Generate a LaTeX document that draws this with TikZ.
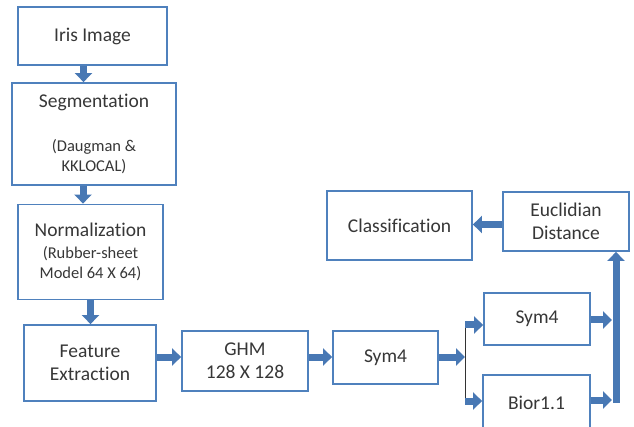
\documentclass[tikz,border=0pt]{standalone}
\usepackage{fontspec}
\setmainfont[Ligatures=NoCommon]{Carlito}
\usetikzlibrary{arrows.meta}
\definecolor{boxblue}{RGB}{79,129,189}
\definecolor{flowblue}{RGB}{72,120,180}
\definecolor{textgray}{RGB}{55,55,55}
\newcommand{\subtxt}{\fontsize{16.5}{20}\selectfont}

\begin{document}
\begin{tikzpicture}[
    x=1pt, y=-1pt,
    stage/.style={draw=boxblue, line width=1.8pt, fill=white, text=textgray,
        align=center, inner sep=0pt,
        font=\fontsize{19.5}{23}\selectfont},
    flow/.style={-{Triangle[width=17pt,length=9pt]}, flowblue, line width=7pt},
    branch/.style={black!80, line width=0.8pt},
]
\clip (0,0) rectangle (634,427);

% === COLUMNA IZQUIERDA ===
\node[stage, minimum width=149pt, minimum height=58pt] (iris) at (92.5,36) {Iris Image};
\node[stage, minimum width=164pt, minimum height=102pt] (seg) at (94,134)
    {Segmentation\\[21pt]{\subtxt (Daugman \&}\\[-3pt]{\subtxt KKLOCAL)}};
\node[stage, minimum width=145pt, minimum height=95pt] (norm) at (90.5,252)
    {Normalization\\[-1pt]{\subtxt (Rubber-sheet}\\[-3pt]{\subtxt Model 64 X 64)}};
\node[stage, minimum width=132pt, minimum height=76pt] (feat) at (90,363) {Feature\\Extraction};

% === FILA INFERIOR ===
\node[stage, minimum width=126pt, minimum height=60pt] (ghm) at (245,361) {GHM\\128 X 128};
\node[stage, minimum width=105pt, minimum height=53pt] (wavA) at (385.5,357.5) {Sym4};
\node[stage, minimum width=106pt, minimum height=52pt] (wavB) at (537,319) {Sym4};
\node[stage, minimum width=107pt, minimum height=56pt] (wavC) at (536.5,403) {Bior1.1};

% === FILA SUPERIOR ===
\node[stage, minimum width=126pt, minimum height=59pt] (eucl) at (566,221.5) {Euclidian\\Distance};
\node[stage, minimum width=145pt, minimum height=69pt] (clas) at (399.5,225.5) {Classification};

% Puntos de unión
\coordinate (split) at (465,357);
\coordinate (splitup) at (465,325);
\coordinate (splitdn) at (465,401);
\coordinate (jointop) at (612,320);
\coordinate (joinbot) at (612,400);
\coordinate (bar) at (616,403);

% === FLECHAS ===
\draw[flow] ([xshift=-9pt]iris.south) -- ([xshift=-9pt]iris.south |- seg.north);
\draw[flow] ([xshift=-11pt]seg.south) -- ([xshift=-11pt]seg.south |- norm.north);
\draw[flow] (norm.south) -- (norm.south |- feat.north);
\draw[flow] (feat.east |- split) -- (ghm.west |- split);
\draw[flow] (ghm.east |- split) -- (wavA.west |- split);
\draw[flow] (wavA.east |- split) -- (split);
\draw[branch] (splitup) -- (splitdn);
\draw[flow] (splitup) -- (splitup -| wavB.west);
\draw[flow] (splitdn) -- (splitdn -| wavC.west);
\draw[flow] (wavB.east |- jointop) -- (jointop);
\draw[flow] (wavC.east |- joinbot) -- (joinbot);
\draw[flow] (bar) -- (bar |- eucl.south);
\draw[flow] ([yshift=-3pt]eucl.west) -- ([yshift=-3pt]eucl.west -| clas.east);

\end{tikzpicture}
\end{document}
